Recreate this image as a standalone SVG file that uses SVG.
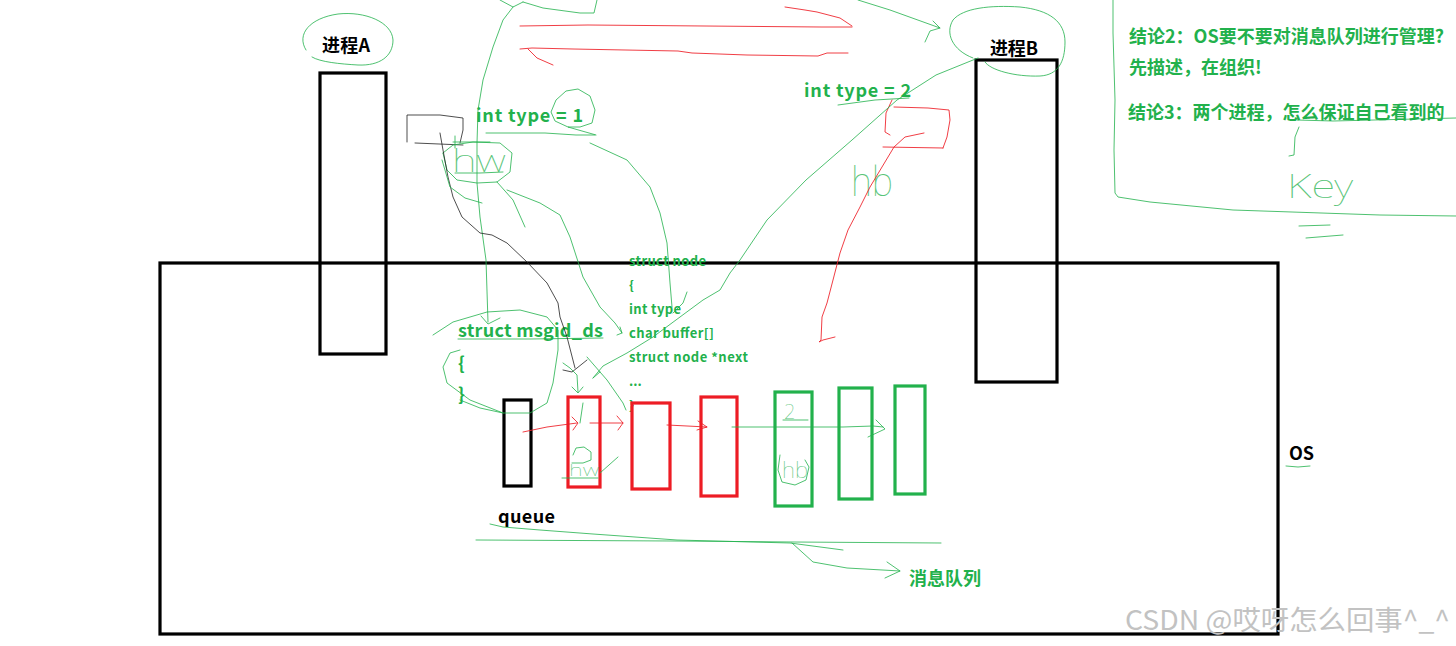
<svg xmlns="http://www.w3.org/2000/svg" width="1456" height="646" viewBox="0 0 1456 646">
<style>
.ink{fill:none;stroke:#000;stroke-width:3.2}
.red{fill:none;stroke:#ed1c24;stroke-width:3.2}
.grn{fill:none;stroke:#22b14c;stroke-width:3.2}
.pen{fill:none;stroke:#22b14c;stroke-width:1;opacity:.8;stroke-linejoin:round;stroke-linecap:round}
.rpen{fill:none;stroke:#ed1c24;stroke-width:1;opacity:.85;stroke-linejoin:round;stroke-linecap:round}
.kpen{fill:none;stroke:#222;stroke-width:1;opacity:.8;stroke-linejoin:round;stroke-linecap:round}
.t{font-family:"Noto Sans CJK SC","Microsoft YaHei","Noto Sans",sans-serif;font-weight:bold}
.k{fill:#000;font-size:18px}
.g{fill:#22b14c;font-size:18px}
.s{fill:#22b14c;font-size:13px}
.hand{font-family:"Noto Sans","DejaVu Sans",sans-serif;font-weight:100;fill:#22b14c;opacity:.75}
.wm{font-family:"Noto Sans CJK SC","Noto Sans",sans-serif;font-size:27px;fill:#c2c2c2}
</style>
<rect width="1456" height="646" fill="#fff"/>

<g id="os">
  <rect class="ink" x="160" y="263" width="1118" height="371"/>
  <text class="t k" x="1289" y="460" textLength="25">OS</text>
  <path class="pen" d="M1286,466 L1298,467 L1310,466"/>
</g>

<g id="processA">
  <rect class="ink" x="320" y="73" width="66" height="281"/>
  <text class="t k" x="322" y="52" textLength="48">进程A</text>
  <path class="pen" d="M306,50 C296,34 310,18 338,14 C365,11 392,22 393,40 C393,56 380,66 358,65 C340,64 320,62 312,57"/>
</g>

<g id="processB">
  <rect class="ink" x="976" y="60" width="81" height="322"/>
  <text class="t k" x="990" y="55" textLength="48">进程B</text>
  <path class="pen" d="M973,58 C952,50 945,33 953,20 C963,8 990,5 1020,7 C1050,10 1065,22 1065,42 C1065,62 1058,75 1040,76 C1015,77 990,70 985,62"/>
</g>

<g id="msgid_ds">
  <text class="t g" x="458" y="337" textLength="145">struct msgid_ds</text>
  <text class="t g" x="458" y="370">{</text>
  <text class="t g" x="458" y="401">}</text>
  <path class="pen" d="M458,339 L530,339 L603,338"/>
</g>

<g id="struct_node">
  <text class="t s" x="629" y="266" textLength="77">struct node</text>
  <text class="t s" x="629" y="290">{</text>
  <text class="t s" x="629" y="314" textLength="52">int type</text>
  <text class="t s" x="629" y="338" textLength="85">char buffer[]</text>
  <text class="t s" x="629" y="362" textLength="119">struct node *next</text>
  <text class="t s" x="629" y="386">...</text>
  <text class="t s" x="629" y="410">}</text>
</g>

<g id="type1">
  <text class="t g" x="476" y="122" textLength="107">int type = 1</text>
  <path class="pen" d="M486,133 L545,133 L576,135 L595,135"/>
  <path class="pen" d="M568,127 L555,121 L551,112 L556,100 L566,91 L578,89 L590,96 L595,110 L592,123 L580,127 L568,127 L596,135"/>
</g>

<g id="type2">
  <text class="t g" x="804" y="97" textLength="107">int type = 2</text>
  <path class="pen" d="M838,105 L875,100 L909,98"/>
  <path class="rpen" d="M892,100 L886,113 L885,132 L890,135 M894,107 L928,108 L949,110 L950,120 L947,137 L943,148 M883,147 L943,148"/>
  <text class="hand" x="851" y="196" font-size="40" textLength="42" lengthAdjust="spacingAndGlyphs">hb</text>
</g>

<g id="hw_note">
  <path class="kpen" d="M407,142 L407,115 L440,115 L463,118 L463,130 L460,143 M415,143 L463,145"/>
  <path class="pen" d="M443,153 L453,145 L473,142 L500,143 L512,153 L510,172 L497,182 L477,183 L457,180 L447,170 L443,153 M453,142 L490,142 M455,136 L455,148 M455,173 L480,173 L503,172"/>
  <text class="hand" x="452" y="172" font-size="32" textLength="54" lengthAdjust="spacingAndGlyphs">hw</text>
</g>

<g id="queue">
  <rect class="ink" x="504" y="400" width="27" height="86"/>
  <text class="t k" x="498" y="523" textLength="57">queue</text>
</g>
<g id="node1">
  <rect class="red" x="568" y="397" width="32" height="90"/>
  <path class="pen" d="M583,403 L580,423 M573,455 L576,448 L584,447 L591,452 L591,460 L583,463 L572,463 M562,478 L598,478 M600,473 L618,457"/>
  <text class="hand" x="569" y="476" font-size="17" textLength="30" lengthAdjust="spacingAndGlyphs">hw</text>
</g>
<g id="node2"><rect class="red" x="632" y="403" width="38" height="86"/></g>
<g id="node3"><rect class="red" x="701" y="397" width="36" height="99"/></g>
<g id="node4">
  <rect class="grn" x="775" y="392" width="37" height="114"/>
  <text class="hand" x="784" y="419" font-size="20">2</text>
  <path class="pen" d="M783,420 L808,420 M780,455 L778,470 L782,482 L795,485 L806,480 L809,467 L805,460"/>
  <text class="hand" x="782" y="478" font-size="22" textLength="26" lengthAdjust="spacingAndGlyphs">hb</text>
</g>
<g id="node5"><rect class="grn" x="839" y="388" width="33" height="111"/></g>
<g id="node6"><rect class="grn" x="895" y="386" width="30" height="108"/></g>

<g id="queue_label">
  <text class="t g" x="909" y="585" textLength="72">消息队列</text>
</g>

<g id="conclusions">
  <text class="t g" x="1129" y="43">结论2：OS要不要对消息队列进行管理?</text>
  <text class="t g" x="1129" y="74">先描述，在组织!</text>
  <text class="t g" x="1128" y="119">结论3：两个进程，怎么保证自己看到的</text>
  <path class="pen" d="M1113,0 L1113,33 L1115,100 L1114,150 L1115,193 L1118,197 L1150,202 L1233,210 L1380,215 L1456,216"/>
  <path class="pen" d="M1297,120 L1333,121 L1456,118 M1299,127 L1295,137 L1294,155 L1289,156"/>
  <text class="hand" x="1287" y="198" font-size="34" textLength="66" lengthAdjust="spacingAndGlyphs">Key</text>
  <path class="pen" d="M1299,226 L1330,225 M1306,238 L1343,235"/>
</g>

<g id="connectors">
  <path class="pen" d="M500,0 L513,7 L523,2 M523,2 L543,8 L580,13 L594,13 L597,0"/>
  <path class="pen" d="M513,7 L503,20 L493,47 L483,80 L478,110 L477,143 L477,183 L480,217 L486,260 L488,322 M481,316 L488,324 L500,318"/>
  <path class="rpen" d="M520,26 L588,25 L821,27 L852,27 M852,26 L840,18 L817,12 L805,10 L785,7"/>
  <path class="rpen" d="M520,49 L532,48 L573,49 L678,51 L692,53 L747,55 L818,56 L827,53 L848,53 M528,49 L537,58 L553,65"/>
  <path class="pen" d="M858,0 L890,10 L940,28 M933,21 L940,28 L930,31 L925,42"/>
  <path class="pen" d="M978,58 L936,75 L897,100 L852,140 L806,180 L767,220 L740,260 L730,273 L720,290 L703,300 L680,317 L653,337 L627,353 L603,366 L593,378 M593,378 L600,372"/>
  <path class="rpen" d="M924,133 L905,137 L894,147 L882,167 L870,187 L860,207 L848,230 L840,253 L833,280 L827,303 L822,317 L821,340 L819,342 L823,340 L835,337"/>
  <path class="kpen" d="M440,133 L443,150 L448,177 L453,197 L462,217 L480,233 L492,235 L507,243 L527,262 L547,283 L558,303 L560,317 L567,337 L575,368 M563,370 L572,372 L587,360"/>
  <path class="pen" d="M442,160 L450,187 L465,198 L482,203 M497,182 L513,200 L525,227"/>
  <path class="pen" d="M507,190 L540,203 L560,215 L570,237 L583,277 L600,307 L615,323 L622,333 M620,327 L622,333 L617,335"/>
  <path class="pen" d="M590,143 L627,160 L650,187 L660,213 L667,243 L670,283 L672,307 M687,292 L683,303 L673,313"/>
  <path class="pen" d="M433,335 L453,322 L487,312 L520,310 L547,317 L558,330 L558,350 L553,383 L547,403 L530,413 L503,413 L480,408 L460,400 M460,350 L450,353 L443,367 L447,383 L470,400 L503,413"/>
  <path class="pen" d="M563,363 L570,368 L577,375 L578,392 M572,387 L578,393 L583,387 M587,357 L607,380 L623,403 L626,410"/>
  <path class="rpen" d="M523,432 L547,427 L577,423 M572,417 L578,423 L573,430"/>
  <path class="rpen" d="M590,423 L623,423 M617,416 L623,423 L618,430"/>
  <path class="rpen" d="M667,425 L707,427 M698,421 L707,427 L697,430"/>
  <path class="pen" d="M732,427 L843,427 L873,426 L883,427 M876,420 L885,429 L868,437"/>
  <path class="pen" d="M476,540 L674,541 L793,542 L941,543"/>
  <path class="pen" d="M490,524 L503,527 L540,530 L593,534 L677,540 L790,543 L843,550"/>
  <path class="pen" d="M792,543 L813,562 L847,568 L900,571 M887,562 L900,571 L885,578"/>
</g>

<text class="wm" x="1125" y="630" textLength="325" lengthAdjust="spacingAndGlyphs">CSDN @哎呀怎么回事^_^</text>
</svg>
